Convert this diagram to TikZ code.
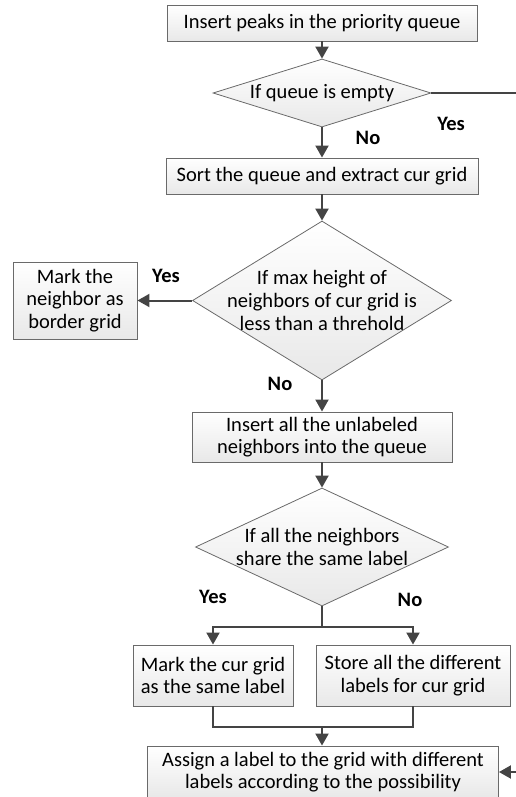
\documentclass[tikz,border=0pt]{standalone}
\usepackage{fontspec}
\setmainfont{Carlito}
\usetikzlibrary{arrows.meta,shapes.geometric}
\definecolor{linegray}{HTML}{444444}
\definecolor{edgegray}{HTML}{6A6A6A}
\begin{document}
\begin{tikzpicture}[x=1pt, y=-1pt,
    font=\fontsize{20.5}{22.7}\selectfont,
    box/.style={draw=edgegray, line width=0.9pt, top color=white, bottom color=black!9,
        align=center, inner sep=0pt},
    decision/.style={diamond, draw=edgegray, line width=0.8pt, top color=white,
        bottom color=black!9, inner sep=0pt},
    flow/.style={draw=linegray, line width=2pt, -{Triangle[length=12pt,width=13pt]}},
    link/.style={draw=linegray, line width=2pt},
    answer/.style={font=\fontsize{20.5}{22.7}\selectfont\bfseries}]
    \useasboundingbox (0,0) rectangle (516,797);

    % boxes
    \node[box, minimum width=310, minimum height=36] (peaks) at (322,23) {Insert peaks in the priority queue};
    \node[box, minimum width=312, minimum height=36] (sort) at (322,176) {Sort the queue and extract cur grid};
    \node[box, minimum width=124, minimum height=77] (border) at (75,300.5) {Mark the\\neighbor as\\border grid};
    \node[box, minimum width=260, minimum height=50] (insert) at (322,437) {Insert all the unlabeled\\neighbors into the queue};
    \node[box, minimum width=160, minimum height=61] (same) at (213,675.5) {Mark the cur grid\\as the same label};
    \node[box, minimum width=194, minimum height=61] (store) at (413,675.5) {Store all the different\\labels for cur grid};
    \node[box, minimum width=351, minimum height=52] (assign) at (323,772) {Assign a label to the grid with different\\labels according to the possibility};

    % decisions
    \node[decision, minimum width=218, minimum height=68] (empty) at (322,93) {};
    \node (emptytxt) at (empty.center) {If queue is empty};
    \node[decision, minimum width=259, minimum height=159] (height) at (322,300.5) {};
    \node[align=center] (heighttxt) at (height.center) {If max height of\\neighbors of cur grid is\\less than a threhold};
    \node[decision, minimum width=253, minimum height=118] (share) at (322,547) {};
    \node[align=center] (sharetxt) at (share.center) {If all the neighbors\\share the same label};

    % connectors
    \draw[flow] (peaks) -- (empty);
    \draw[flow] (empty) -- (sort);
    \draw[flow] (empty.east) -- (530,93) |- (assign.east);
    \draw[flow] (sort) -- (height);
    \draw[flow] (height.west) -- (border.east);
    \draw[flow] (height) -- (insert);
    \draw[flow] (insert) -- (share);
    \coordinate (split) at (322,627);
    \coordinate (merge) at (322,727);
    \draw[link] (share.south) -- (split);
    \draw[flow] (split) -| (same.north);
    \draw[flow] (split) -| (store.north);
    \draw[link] (same.south) |- (merge) -| (store.south);
    \draw[flow] (merge) -- (merge |- assign.north);

    % answers
    \node[answer] (noA) at (368,138) {No};
    \node[answer] (yesA) at (451,124) {Yes};
    \node[answer] (yesB) at (166,276) {Yes};
    \node[answer] (noB) at (280,384) {No};
    \node[answer] (yesC) at (213,597) {Yes};
    \node[answer] (noC) at (410,600) {No};
\end{tikzpicture}
\end{document}
